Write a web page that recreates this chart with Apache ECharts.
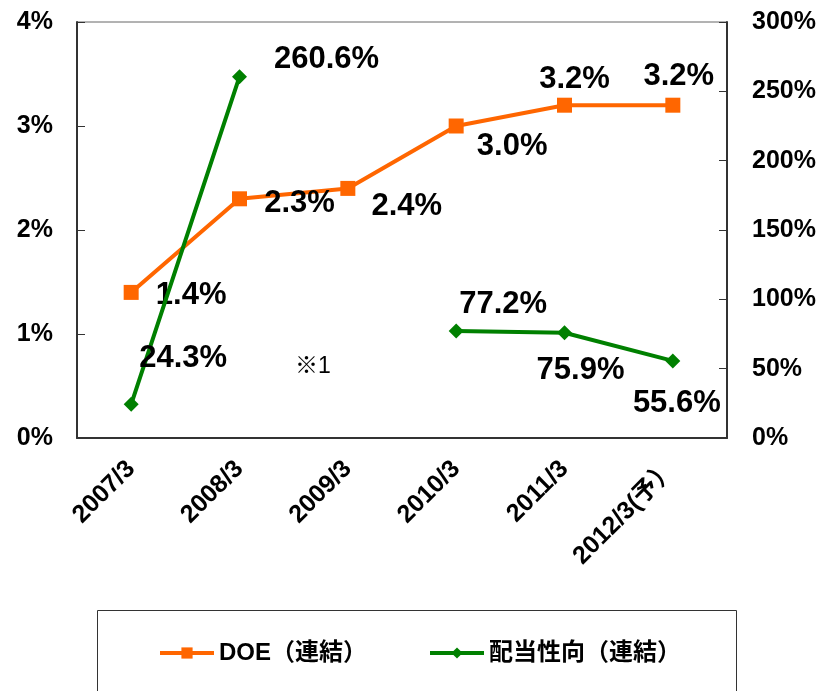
<!DOCTYPE html>
<html>
<head>
<meta charset="utf-8">
<script src="https://cdn.jsdelivr.net/npm/echarts@6/dist/echarts.min.js"></script>
<style>html,body{margin:0;padding:0;background:#fff;}#c{width:823px;height:691px;}</style>
</head>
<body>
<div id="c"></div>
<script>
var categories = ['2007/3', '2008/3', '2009/3', '2010/3', '2011/3', '2012/3(予）'];
var doeValues = [1.4, 2.3, 2.4, 3.0, 3.2, 3.2];
var payoutValues = [24.3, 260.6, null, 77.2, 75.9, 55.6];
var leftTicks = [0, 1, 2, 3, 4];
var rightTicks = [0, 50, 100, 150, 200, 250, 300];
var doeName = 'DOE（連結）';
var payoutName = '配当性向（連結）';
var noteText = '※1';

// label placement (layout only)
var doeLabelOffsets = [[60, 3], [60, 5], [59, 18], [56, 20], [10, -26], [6, -29]];
var payoutLabelOffsets = [[52, -46], [87, -17], [0, 0], [47, -26], [16, 38], [4, 43]];

var FONT = '"Liberation Sans", Arial, "Noto Sans CJK JP", sans-serif';

function buildData(vals, offs, fmt) {
  return vals.map(function (v, i) {
    if (v === null) return null;
    return { value: v, label: { offset: offs[i], formatter: fmt(v) } };
  });
}

var chart = echarts.init(document.getElementById('c'), null, { renderer: 'canvas' });
var axisLineStyle = { color: '#333', width: 2 };
chart.setOption({
  animation: false,
  backgroundColor: '#fff',
  textStyle: { fontFamily: FONT },
  grid: { left: 77, right: 96, top: 22, bottom: 253, show: true, borderColor: '#666', borderWidth: 1 },
  legend: {
    left: 158, top: 641, padding: 0, itemWidth: 54, itemHeight: 14, itemGap: 61,
    lineStyle: { width: 4 },
    textStyle: { fontFamily: FONT, fontSize: 24, fontWeight: 'bold', color: '#000' },
    data: [doeName, payoutName]
  },
  graphic: [
    { type: 'rect', shape: { x: 97.5, y: 610.5, width: 639, height: 100 }, style: { fill: 'none', stroke: '#333', lineWidth: 1 }, silent: true },
    { type: 'text', x: 295, y: 367, style: { text: noteText, font: 'normal 23px ' + FONT, fill: '#000', textVerticalAlign: 'middle' } }
  ],
  xAxis: {
    type: 'category', data: categories, boundaryGap: true,
    axisLine: { lineStyle: axisLineStyle },
    axisTick: { inside: true, length: 8, lineStyle: { color: '#333', width: 1 } },
    axisLabel: { rotate: 45, margin: 27, fontSize: 25, fontWeight: 'bold', color: '#000', fontFamily: FONT, interval: 0 }
  },
  yAxis: [
    {
      type: 'value', min: leftTicks[0], max: leftTicks[leftTicks.length - 1], interval: 1,
      axisLine: { show: true, lineStyle: axisLineStyle },
      axisTick: { show: true, inside: true, length: 8, lineStyle: { color: '#333', width: 1 } },
      splitLine: { show: false },
      axisLabel: { formatter: '{value}%', margin: 24, fontSize: 25, fontWeight: 'bold', color: '#000', fontFamily: FONT }
    },
    {
      type: 'value', min: rightTicks[0], max: rightTicks[rightTicks.length - 1], interval: 50,
      axisLine: { show: true, lineStyle: axisLineStyle },
      axisTick: { show: true, inside: true, length: 8, lineStyle: { color: '#333', width: 1 } },
      splitLine: { show: false },
      axisLabel: { formatter: '{value}%', margin: 25, fontSize: 25, fontWeight: 'bold', color: '#000', fontFamily: FONT }
    }
  ],
  series: [
    {
      name: doeName, type: 'line', yAxisIndex: 0,
      data: buildData(doeValues, doeLabelOffsets, function (v) { return v.toFixed(1) + '%'; }),
      symbol: 'rect', symbolSize: 15,
      itemStyle: { color: '#FF6600' },
      lineStyle: { color: '#FF6600', width: 4 },
      label: { show: true, position: 'inside', fontSize: 31, fontWeight: 'bold', color: '#000', fontFamily: FONT },
      z: 2
    },
    {
      name: payoutName, type: 'line', yAxisIndex: 1, connectNulls: false,
      data: buildData(payoutValues, payoutLabelOffsets, function (v) { return v.toFixed(1) + '%'; }),
      symbol: 'diamond', symbolSize: 15,
      itemStyle: { color: '#008000' },
      lineStyle: { color: '#008000', width: 4 },
      label: { show: true, position: 'inside', fontSize: 31, fontWeight: 'bold', color: '#000', fontFamily: FONT },
      z: 3
    }
  ]
});
</script>
</body>
</html>
